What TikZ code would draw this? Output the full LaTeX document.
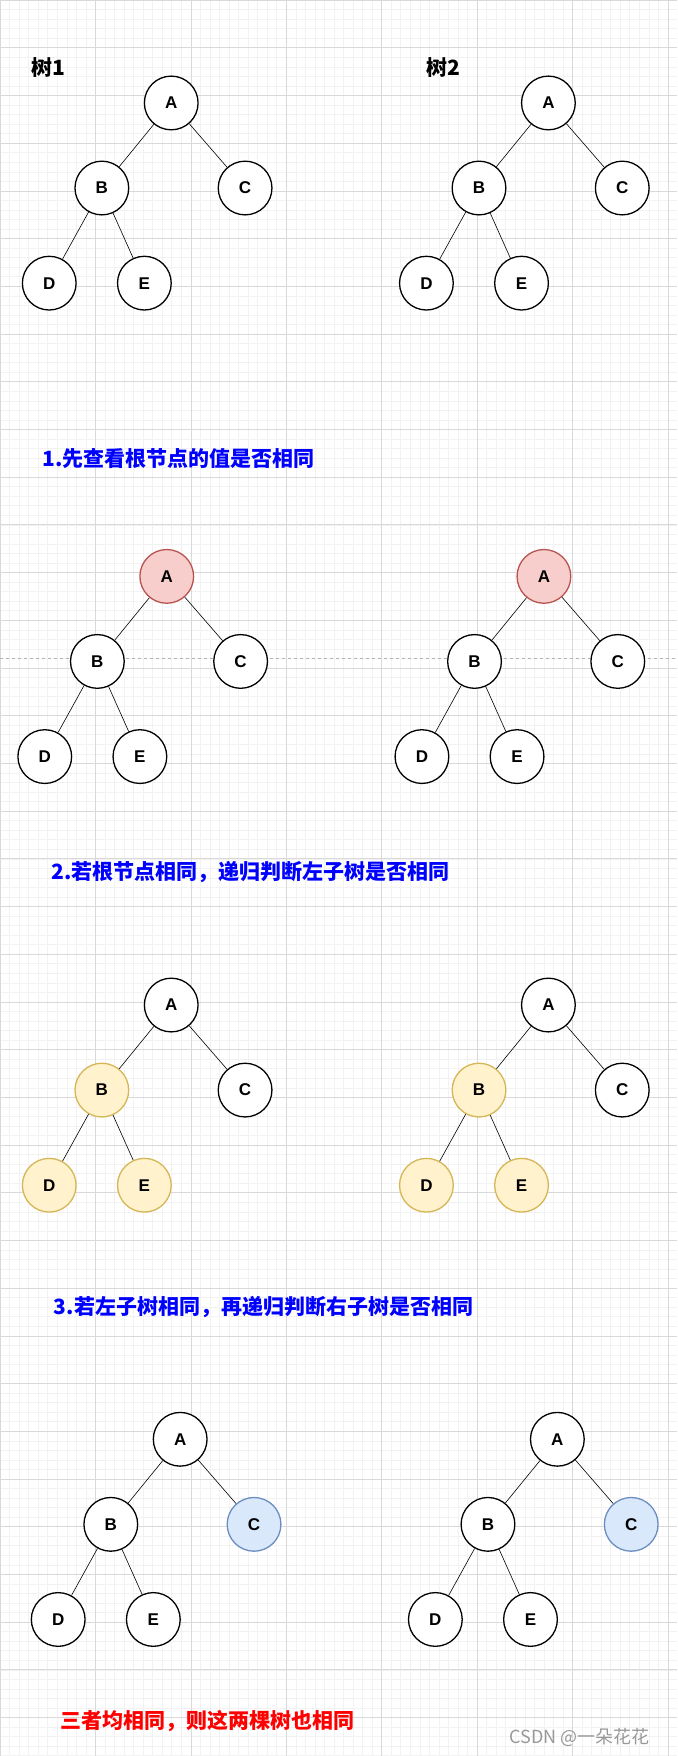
\documentclass[tikz,border=0pt]{standalone}
\usepackage{fontspec}
\setmainfont{Liberation Sans}
\newfontfamily\cjk{Noto Sans CJK SC}
\usetikzlibrary{positioning}
\definecolor{redfill}{HTML}{F8CECC}
\definecolor{redline}{HTML}{B85450}
\definecolor{yelfill}{HTML}{FFF2CC}
\definecolor{yelline}{HTML}{D6B656}
\definecolor{bluefill}{HTML}{DAE8FC}
\definecolor{blueline}{HTML}{6C8EBF}
\tikzset{
  tnode/.style={circle,draw=black,line width=1.3pt,fill=white,minimum size=53.7pt,inner sep=0pt,font=\fontsize{17}{17}\selectfont\bfseries},
  redn/.style={fill=redfill,draw=redline},
  yellown/.style={fill=yelfill,draw=yelline},
  bluen/.style={fill=bluefill,draw=blueline},
  plain/.style={},
  edge/.style={line width=0.6pt},
  steptext/.style={anchor=west,font=\cjk\fontsize{21}{21}\selectfont\bfseries,inner sep=0pt}
}
% one binary tree: prefix, x, y of root, styles for A, B, C, D/E
\newcommand\bintree[7]{
  \node[tnode,#4] (#1A) at (#2,#3) {A};
  \node[tnode,#5] (#1B) at (#2-62,#3+76) {B};
  \node[tnode,#6] (#1C) at (#2+66,#3+76) {C};
  \node[tnode,#7] (#1D) at (#2-109,#3+161) {D};
  \node[tnode,#7] (#1E) at (#2-24,#3+161) {E};
  \draw[edge] (#1A) -- (#1B);
  \draw[edge] (#1A) -- (#1C);
  \draw[edge] (#1B) -- (#1D);
  \draw[edge] (#1B) -- (#1E);
}
\begin{document}
\begin{tikzpicture}[x=1.119pt,y=-1.119pt]
\useasboundingbox (0,0) rectangle (605,1569);
\fill[white] (0,0) rectangle (605,1569);
% grid
\draw[black!5,line width=0.5pt,step=9.54pt] (0,0) grid (605,1569);
\draw[black!15,line width=0.6pt,xstep=95.4pt,ystep=47.7pt] (0,0) grid (605,1569);
% step 0
\node[steptext] (title1) at (28,60) {树1};
\node[steptext] (title2) at (381,60) {树2};
\bintree{a}{153}{92}{plain}{plain}{plain}{plain}
\bintree{b}{490}{92}{plain}{plain}{plain}{plain}
% step 1
\node[steptext,text=blue] (s1) at (38,410) {1.先查看根节点的值是否相同};
\draw[black!30,dashed,line width=0.6pt] (0,588) -- (605,588);
\bintree{c}{149}{515}{redn}{plain}{plain}{plain}
\bintree{d}{486}{515}{redn}{plain}{plain}{plain}
% step 2
\node[steptext,text=blue] (s2) at (46,779) {2.若根节点相同，递归判断左子树是否相同};
\bintree{e}{153}{898}{plain}{yellown}{plain}{yellown}
\bintree{f}{490}{898}{plain}{yellown}{plain}{yellown}
% step 3
\node[steptext,text=blue] (s3) at (48,1168) {3.若左子树相同，再递归判断右子树是否相同};
\bintree{g}{161}{1286}{plain}{plain}{bluen}{plain}
\bintree{h}{498}{1286}{plain}{plain}{bluen}{plain}
% result
\node[steptext,text=red] (res) at (54,1538) {三者均相同，则这两棵树也相同};
\node[anchor=west,inner sep=0pt,text=black!40,font=\cjk\fontsize{18}{18}\selectfont] (mark) at (455,1552) {CSDN @一朵花花};
\end{tikzpicture}
\end{document}
